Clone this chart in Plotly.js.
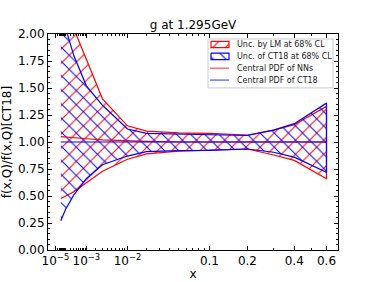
<!DOCTYPE html>
<html>
<head>
<meta charset="utf-8">
<script src="https://cdn.plot.ly/plotly-3.0.1.min.js"></script>
<style>html,body{margin:0;padding:0;background:#fff;}#chart{width:376px;height:282px;}</style>
</head>
<body>
<div id="chart"></div>
<script>
// x grid of the PDF ratio (momentum fraction)
var xVals = [4e-5, 1e-4, 3e-4, 1e-3, 3e-3, 0.01, 0.02, 0.05, 0.1, 0.2, 0.3, 0.4, 0.6];
// LM (NN) uncertainty band, 68% CL
var nnUpper = [2.60, 2.35, 2.05, 1.77, 1.40, 1.15, 1.10, 1.085, 1.08, 1.065, 1.11, 1.16, 1.33];
var nnLower = [0.476, 0.50, 0.54, 0.62, 0.73, 0.84, 0.89, 0.915, 0.925, 0.935, 0.88, 0.83, 0.66];
var nnCentral = [1.05, 1.045, 1.04, 1.03, 1.02, 1.01, 1.005, 1.0, 1.0, 1.0, 1.0, 1.0, 1.0];
// CT18 uncertainty band, 68% CL
var ctUpper = [2.35, 2.05, 1.80, 1.52, 1.34, 1.12, 1.08, 1.075, 1.07, 1.06, 1.11, 1.17, 1.36];
var ctLower = [0.27, 0.38, 0.51, 0.66, 0.79, 0.87, 0.91, 0.92, 0.922, 0.935, 0.905, 0.86, 0.72];
var ctCentral = [1.0, 1.0, 1.0, 1.0, 1.0, 1.0, 1.0, 1.0, 1.0, 1.0, 1.0, 1.0, 1.0];
// axis ticks
var xTickVals = [1e-5, 1e-3, 1e-2, 0.1, 0.2, 0.4, 0.6];
var xTickText = ['10<sup>\u22125</sup>', '10<sup>\u22123</sup>', '10<sup>\u22122</sup>', '0.1', '0.2', '0.4', '0.6'];
// legend entries
var legendLabels = ['Unc. by LM at 68% CL', 'Unc. of CT18 at 68% CL', 'Central PDF of NNs', 'Central PDF of CT18'];
var legendKinds = ['band', 'band', 'line', 'line'];
var legendColors = ['red', 'blue', 'red', 'blue'];
var legendShapes = ['/', '\\', '', ''];

// axis scale: x -> x^0.3
var P = 0.3;
function tx(v) { return Math.pow(v, P); }
var X = xVals.map(tx);

var minorX = [];
[1e-5, 1e-4, 1e-3, 1e-2].forEach(function (d) {
  for (var k = 1; k <= 9; k++) { minorX.push(tx(k * d)); }
});
[0.3, 0.5, 0.7].forEach(function (v) { minorX.push(tx(v)); });

function band(xs, up, lo) {
  return {
    x: xs.concat(xs.slice().reverse()),
    y: up.concat(lo.slice().reverse())
  };
}
var nnBand = band(X, nnUpper, nnLower);
var ctBand = band(X, ctUpper, ctLower);

var traces = [
  {
    x: nnBand.x, y: nnBand.y, type: 'scatter', mode: 'lines', fill: 'toself',
    line: {color: 'red', width: 1.2},
    fillcolor: 'rgba(0,0,0,0)',
    fillpattern: {shape: '/', fgcolor: 'red', bgcolor: 'rgba(0,0,0,0)', size: 10, solidity: 0.1}
  },
  {
    x: ctBand.x, y: ctBand.y, type: 'scatter', mode: 'lines', fill: 'toself',
    line: {color: 'blue', width: 1.2},
    fillcolor: 'rgba(0,0,0,0)',
    fillpattern: {shape: '\\', fgcolor: 'blue', bgcolor: 'rgba(0,0,0,0)', size: 10, solidity: 0.1}
  },
  {
    x: X, y: nnCentral, type: 'scatter', mode: 'lines',
    line: {color: 'red', width: 1.2}
  },
  {
    x: X, y: ctCentral, type: 'scatter', mode: 'lines',
    line: {color: 'blue', width: 1.2}
  }
];

// hand-built legend (overlay axes in page pixels)
var LG = {x0: 208, x1: 333, y0: 39, y1: 88, row0: 44.5, rowStep: 11.9, sx0: 211, sx1: 229, sh: 3.2, tx: 235};
var annotations = [];
legendLabels.forEach(function (lab, i) {
  var cy = LG.row0 + LG.rowStep * i;
  if (legendKinds[i] === 'band') {
    traces.push({
      x: [LG.sx0, LG.sx1, LG.sx1, LG.sx0, LG.sx0],
      y: [cy - LG.sh, cy - LG.sh, cy + LG.sh, cy + LG.sh, cy - LG.sh],
      xaxis: 'x2', yaxis: 'y2', type: 'scatter', mode: 'lines', fill: 'toself',
      line: {color: legendColors[i], width: 1.2},
      fillcolor: 'rgba(0,0,0,0)',
      fillpattern: {shape: legendShapes[i], fgcolor: legendColors[i], bgcolor: 'rgba(0,0,0,0)', size: 9, solidity: 0.12}
    });
  } else {
    traces.push({
      x: [LG.sx0 - 1, LG.sx1], y: [cy, cy],
      xaxis: 'x2', yaxis: 'y2', type: 'scatter', mode: 'lines',
      line: {color: legendColors[i], width: 1.4},
      opacity: 0.6
    });
  }
  annotations.push({
    x: LG.tx, y: cy, xref: 'x2', yref: 'y2', text: lab, showarrow: false,
    xanchor: 'left', yanchor: 'middle',
    font: {family: 'DejaVu Sans', size: 8, color: '#222'}
  });
});

var layout = {
  width: 376, height: 282,
  margin: {l: 48, r: 38, t: 34, b: 31.5, pad: 0},
  paper_bgcolor: '#fff', plot_bgcolor: '#fff',
  font: {family: 'DejaVu Sans', size: 12, color: '#000'},
  showlegend: false,
  title: {text: 'g at 1.295GeV', font: {family: 'DejaVu Sans', size: 12}, x: 0.5, xref: 'paper', xanchor: 'center', y: 0.913, yanchor: 'middle'},
  xaxis: {
    range: [0.009, 0.893],
    tickmode: 'array', tickvals: xTickVals.map(tx), ticktext: xTickText,
    ticks: 'inside', ticklen: 4, tickwidth: 1, tickcolor: '#000',
    showline: true, linecolor: '#000', linewidth: 1, mirror: 'allticks',
    showgrid: false, zeroline: false,
    tickfont: {family: 'DejaVu Sans', size: 12},
    minor: {tickmode: 'array', tickvals: minorX, ticks: 'inside', ticklen: 2, tickcolor: '#000', showgrid: false},
    title: {text: 'x', font: {family: 'DejaVu Sans', size: 12}, standoff: 2}
  },
  yaxis: {
    range: [0, 2],
    tickmode: 'linear', tick0: 0, dtick: 0.25, tickformat: '.2f',
    ticks: 'inside', ticklen: 4, tickwidth: 1, tickcolor: '#000',
    showline: true, linecolor: '#000', linewidth: 1, mirror: 'allticks',
    showgrid: false, zeroline: false,
    tickfont: {family: 'DejaVu Sans', size: 12},
    minor: {dtick: 0.05, tick0: 0, ticks: 'inside', ticklen: 2, tickcolor: '#000', showgrid: false},
    title: {text: 'f(x,Q)/f(x,Q)[CT18]', font: {family: 'DejaVu Sans', size: 12}, standoff: 3}
  },
  xaxis2: {overlaying: 'x', anchor: 'y2', range: [48, 338], visible: false, showgrid: false, zeroline: false},
  yaxis2: {overlaying: 'y', anchor: 'x2', range: [250.5, 34], visible: false, showgrid: false, zeroline: false},
  shapes: [{
    type: 'rect', xref: 'x2', yref: 'y2', x0: LG.x0, x1: LG.x1, y0: LG.y0, y1: LG.y1,
    fillcolor: '#fff', line: {color: '#ccc', width: 1}, layer: 'below'
  }],
  annotations: annotations
};

Plotly.newPlot('chart', traces, layout, {staticPlot: true, displayModeBar: false});
</script>
</body>
</html>
